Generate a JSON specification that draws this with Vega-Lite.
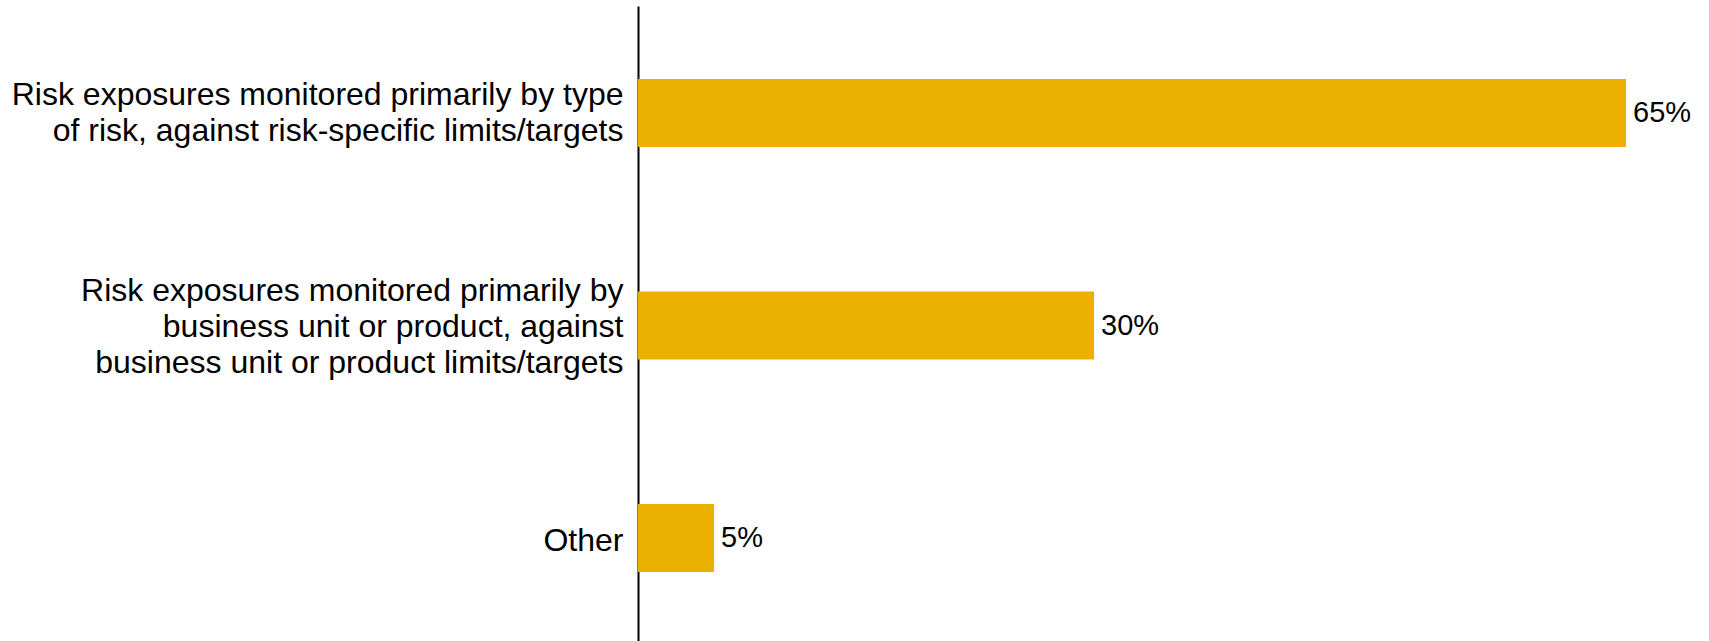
{
  "$schema": "https://vega.github.io/schema/vega-lite/v6.json",
  "width": 1064,
  "height": 639,
  "autosize": "none",
  "padding": {"left": 638, "top": 6, "right": 0, "bottom": 0},
  "background": "#ffffff",
  "config": {"view": {"stroke": null}, "font": "Liberation Sans"},
  "data": {
    "values": [
      {"category": "Risk exposures monitored primarily by type|of risk, against risk-specific limits/targets", "value": 0.65},
      {"category": "Risk exposures monitored primarily by|business unit or product, against|business unit or product limits/targets", "value": 0.30},
      {"category": "Other", "value": 0.05}
    ]
  },
  "encoding": {
    "y": {
      "field": "category",
      "type": "nominal",
      "sort": null,
      "scale": {"paddingInner": 0.68, "paddingOuter": 0.344},
      "axis": {
        "title": null,
        "domain": true,
        "domainColor": "#000000",
        "domainWidth": 2,
        "ticks": false,
        "grid": false,
        "labelFont": "Liberation Sans",
        "labelFontSize": 32,
        "labelColor": "#000000",
        "labelPadding": 15,
        "labelLineHeight": 36,
        "labelLimit": 0,
        "labelOffset": {
          "condition": [
            {"test": "length(split(datum.value, '|')) == 3", "value": -35},
            {"test": "length(split(datum.value, '|')) == 2", "value": -18}
          ],
          "value": 3
        },
        "labelExpr": "split(datum.label, '|')"
      }
    },
    "x": {
      "field": "value",
      "type": "quantitative",
      "scale": {"domain": [0, 0.7]},
      "axis": null
    }
  },
  "layer": [
    {"mark": {"type": "bar", "color": "#EBB000"}},
    {
      "mark": {"type": "text", "align": "left", "baseline": "middle", "dx": 7, "fontSize": 29, "font": "Liberation Sans", "color": "#000000"},
      "encoding": {"text": {"field": "value", "type": "quantitative", "format": ".0%"}}
    }
  ]
}
